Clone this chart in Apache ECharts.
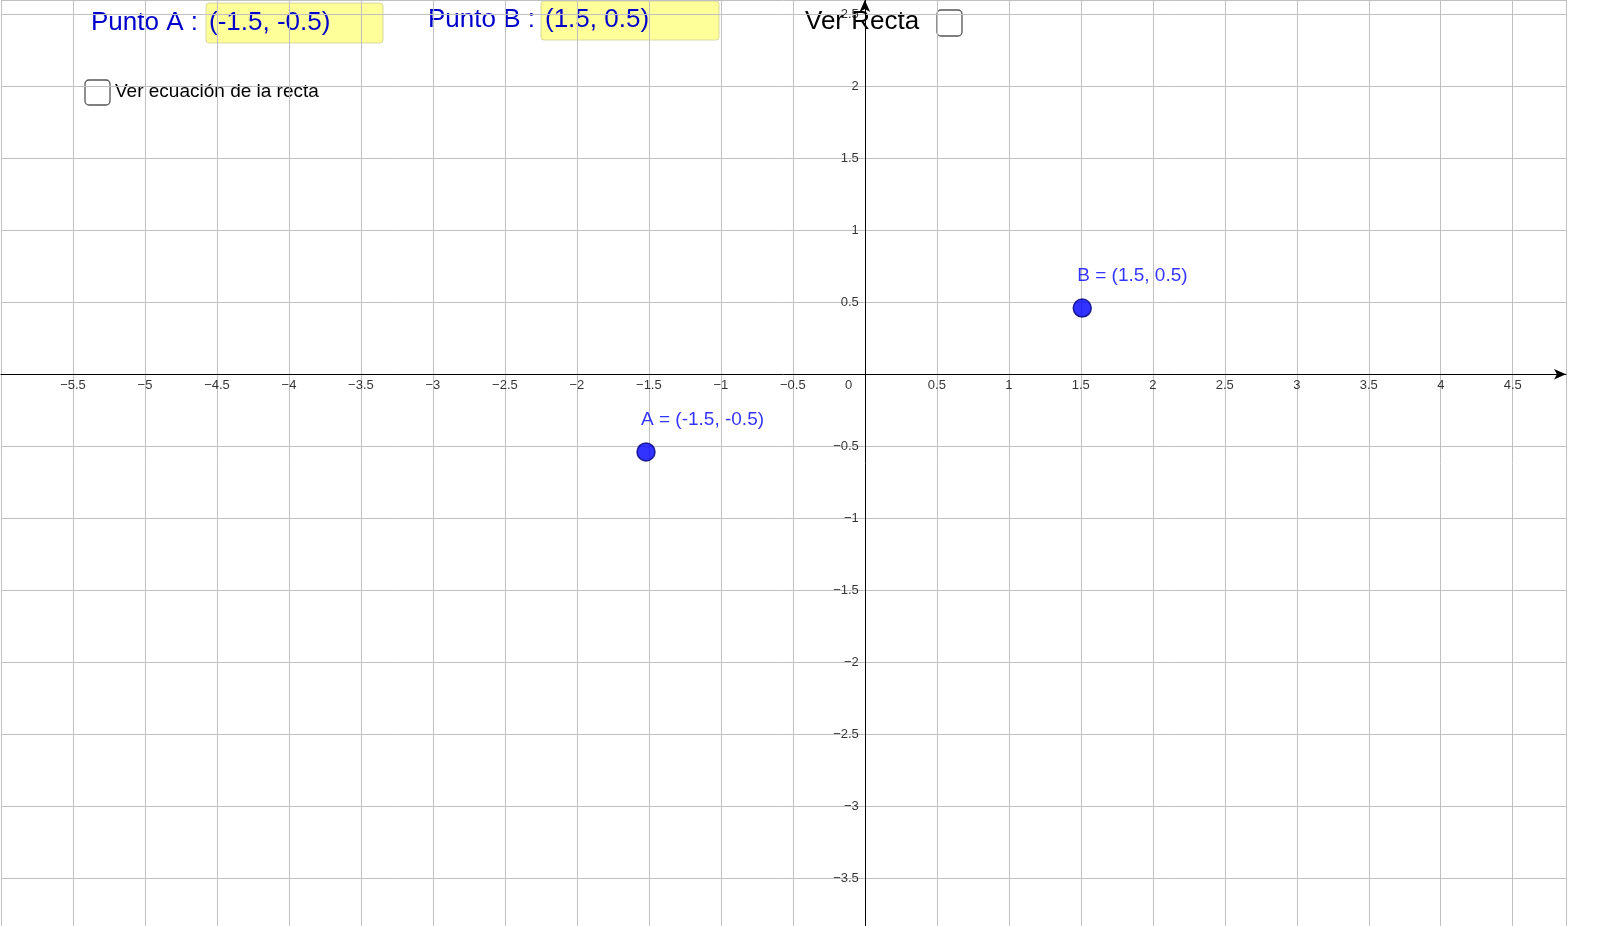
<!DOCTYPE html>
<html><head><meta charset="utf-8">
<script src="https://cdn.jsdelivr.net/npm/echarts@6/dist/echarts.min.js"></script>
<style>html,body{margin:0;padding:0;background:#fff}#c{width:1600px;height:926px}</style>
</head><body><div id="c"></div>
<script>
const pointNames = ['A = (-1.5, -0.5)', 'B = (1.5, 0.5)'];
const pointX = [-1.52, 1.51];
const pointY = [-0.54, 0.46];
const xRange = [-6, 4.87];
const yRange = [-4, 2.6];
const tickStep = 0.5;
const xTickLabels = [-5.5,-5,-4.5,-4,-3.5,-3,-2.5,-2,-1.5,-1,-0.5,0,0.5,1,1.5,2,2.5,3,3.5,4,4.5];
const yTickLabels = [-3.5,-3,-2.5,-2,-1.5,-1,-0.5,0.5,1,1.5,2,2.5];

const fmt = v => (v < 0 ? '\u2212' + String(-v) : String(v));
const chart = echarts.init(document.getElementById('c'));
const F = 'Liberation Sans, Arial, sans-serif';
chart.setOption({
  animation: false,
  grid: {left: 1, right: 34, top: 0, bottom: -24, containLabel: false, outerBoundsMode: 'none'},
  xAxis: {
    type: 'value', min: xRange[0], max: xRange[1], interval: tickStep,
    axisLine: {onZero: true, lineStyle: {color: '#000', width: 1}, symbol: ['none', 'arrow'], symbolSize: [8, 12]},
    axisTick: {show: false}, axisLabel: {show: false},
    splitLine: {lineStyle: {color: '#c0c0c0'}}
  },
  yAxis: {
    type: 'value', min: yRange[0], max: yRange[1], interval: tickStep,
    axisLine: {onZero: true, lineStyle: {color: '#000', width: 1}, symbol: ['none', 'arrow'], symbolSize: [8, 12]},
    axisTick: {show: false}, axisLabel: {show: false},
    splitLine: {lineStyle: {color: '#c0c0c0'}}
  },
  series: [{
    type: 'scatter', symbolSize: 0, silent: true,
    data: xTickLabels.map(v => [v, 0]),
    label: {show: true, position: 'bottom', distance: 5, color: '#000', fontSize: 13, fontFamily: F,
      formatter: p => p.value[0] === 0 ? '0         ' : fmt(p.value[0])}
  }, {
    type: 'scatter', symbolSize: 0, silent: true,
    data: yTickLabels.map(v => [0, v]),
    label: {show: true, position: 'left', distance: 6, color: '#000', fontSize: 13, fontFamily: F,
      formatter: p => fmt(p.value[1])}
  }, {
    type: 'scatter', symbolSize: 18,
    itemStyle: {color: '#0000ff', borderColor: '#00007a', borderWidth: 1.5},
    data: pointX.map((x, i) => ({value: [x, pointY[i]], name: pointNames[i]})),
    label: {show: true, position: 'top', formatter: p => p.name, color: '#0000ff',
      fontSize: 19, fontFamily: F, align: 'left', offset: [-5, -8]}
  }],
  graphic: [
    {type: 'text', left: 91, top: 10, style: {text: 'Punto A :', fill: '#0000cc', font: '26px ' + F}},
    {type: 'rect', shape: {x: 206, y: 3, width: 177, height: 40, r: 3}, style: {fill: '#ffff99', stroke: '#d8d8a0'}},
    {type: 'text', left: 209, top: 10, style: {text: '(-1.5, -0.5)', fill: '#0000cc', font: '26px ' + F}},
    {type: 'text', left: 428, top: 7, style: {text: 'Punto B :', fill: '#0000cc', font: '26px ' + F}},
    {type: 'rect', shape: {x: 541, y: 1, width: 178, height: 39, r: 3}, style: {fill: '#ffff99', stroke: '#d8d8a0'}},
    {type: 'text', left: 545, top: 7, style: {text: '(1.5, 0.5)', fill: '#0000cc', font: '26px ' + F}},
    {type: 'text', left: 805, top: 9, style: {text: 'Ver Recta', fill: '#000', font: '26px ' + F}},
    {type: 'rect', shape: {x: 937, y: 10, width: 25, height: 26, r: 4}, style: {fill: '#fff', stroke: '#555', lineWidth: 1.3}},
    {type: 'rect', shape: {x: 85, y: 80, width: 25, height: 25, r: 4}, style: {fill: '#fff', stroke: '#555', lineWidth: 1.3}},
    {type: 'text', left: 115, top: 82, style: {text: 'Ver ecuación de la recta', fill: '#000', font: '19px ' + F}}
  ]
});
</script></body></html>
